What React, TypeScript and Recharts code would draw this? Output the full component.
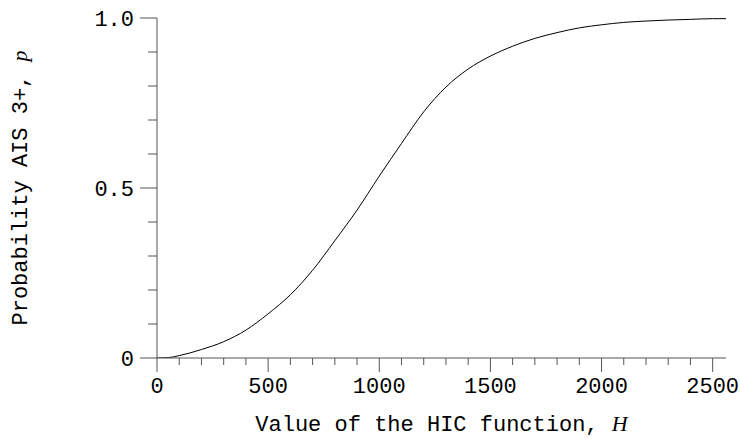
import React from 'react';
import { LineChart, Line, XAxis, YAxis } from 'recharts';

const hValues = [0, 50, 100, 200, 300, 400, 500, 600, 700, 800, 900, 1000, 1100, 1200, 1300, 1400, 1500, 1600, 1700, 1800, 1900, 2000, 2100, 2200, 2300, 2400, 2500, 2560];
const pValues = [0, 0.001, 0.007, 0.025, 0.048, 0.082, 0.13, 0.186, 0.258, 0.345, 0.435, 0.535, 0.631, 0.724, 0.797, 0.85, 0.888, 0.917, 0.94, 0.957, 0.971, 0.98, 0.987, 0.991, 0.994, 0.996, 0.998, 0.998];

const xTicks = [0, 100, 200, 300, 400, 500, 600, 700, 800, 900, 1000, 1100, 1200, 1300, 1400, 1500, 1600, 1700, 1800, 1900, 2000, 2100, 2200, 2300, 2400, 2500];
const xMajor = [0, 500, 1000, 1500, 2000, 2500];
const yTicks = [0, 0.1, 0.2, 0.3, 0.4, 0.5, 0.6, 0.7, 0.8, 0.9, 1.0];
const yMajorLabels: Record<string, string> = { '0': '0', '0.5': '0.5', '1': '1.0' };

const data = hValues.map((h, i) => ({ h, p: pValues[i] }));

const FONT = "'Liberation Mono', 'Courier New', monospace";
const AXIS = '#555';

const XTick = (props: any) => {
  const { x, y, payload } = props;
  const v = payload.value;
  const major = xMajor.includes(v);
  return (
    <g>
      <line x1={x} x2={x} y1={y} y2={y + (major ? 14 : 7)} stroke={AXIS} strokeWidth={1} />
      {major && (
        <text x={x} y={y + 35} textAnchor="middle" fontFamily={FONT} fontSize={22} fill="#000">
          {v}
        </text>
      )}
    </g>
  );
};

const YTick = (props: any) => {
  const { x, y, payload } = props;
  const v = payload.value;
  const key = String(Math.round(v * 10) / 10);
  const label = yMajorLabels[key];
  const major = label !== undefined;
  return (
    <g>
      <line x1={x - (major ? 17 : 9)} x2={x} y1={y} y2={y} stroke={AXIS} strokeWidth={1} />
      {major && (
        <text x={x - 23} y={y + 7.5} textAnchor="end" fontFamily={FONT} fontSize={22} fill="#000">
          {label}
        </text>
      )}
    </g>
  );
};

const XLabel = (props: any) => {
  const vb = props.viewBox || {};
  const cx = vb.x + vb.width / 2;
  return (
    <text x={cx} y={vb.y + 73} textAnchor="middle" fontFamily={FONT} fontSize={22} fill="#000">
      Value of the HIC function,{' '}
      <tspan fontFamily="'Liberation Serif', serif" fontStyle="italic">H</tspan>
    </text>
  );
};

const YLabel = (props: any) => {
  const vb = props.viewBox || {};
  const cy = vb.y + vb.height / 2;
  const bx = 27;
  return (
    <text x={bx} y={cy} transform={`rotate(-90, ${bx}, ${cy})`} textAnchor="middle" fontFamily={FONT} fontSize={22} fill="#000">
      Probability AIS 3+,{' '}
      <tspan fontFamily="'Liberation Serif', serif" fontStyle="italic">p</tspan>
    </text>
  );
};

export default function App() {
  return (
    <div style={{ position: 'absolute', left: 0, top: 0, width: 740, height: 439, background: '#fff' }}>
      <LineChart width={740} height={439} data={data} margin={{ top: 18, right: 14, left: 0, bottom: 0 }}>
        <XAxis
          dataKey="h"
          type="number"
          domain={[0, 2560]}
          ticks={xTicks}
          interval={0}
          tickSize={0}
          tickMargin={0}
          tickLine={false}
          axisLine={{ stroke: AXIS, strokeWidth: 1 }}
          tick={<XTick />}
          height={81}
          allowDataOverflow
          label={<XLabel />}
        />
        <YAxis
          type="number"
          domain={[0, 1]}
          ticks={yTicks}
          interval={0}
          tickSize={0}
          tickMargin={0}
          tickLine={false}
          axisLine={{ stroke: AXIS, strokeWidth: 1 }}
          tick={<YTick />}
          width={157}
          allowDataOverflow
          label={<YLabel />}
        />
        <Line
          type="monotone"
          dataKey="p"
          stroke="#000"
          strokeWidth={1}
          dot={false}
          activeDot={false}
          isAnimationActive={false}
        />
      </LineChart>
    </div>
  );
}
